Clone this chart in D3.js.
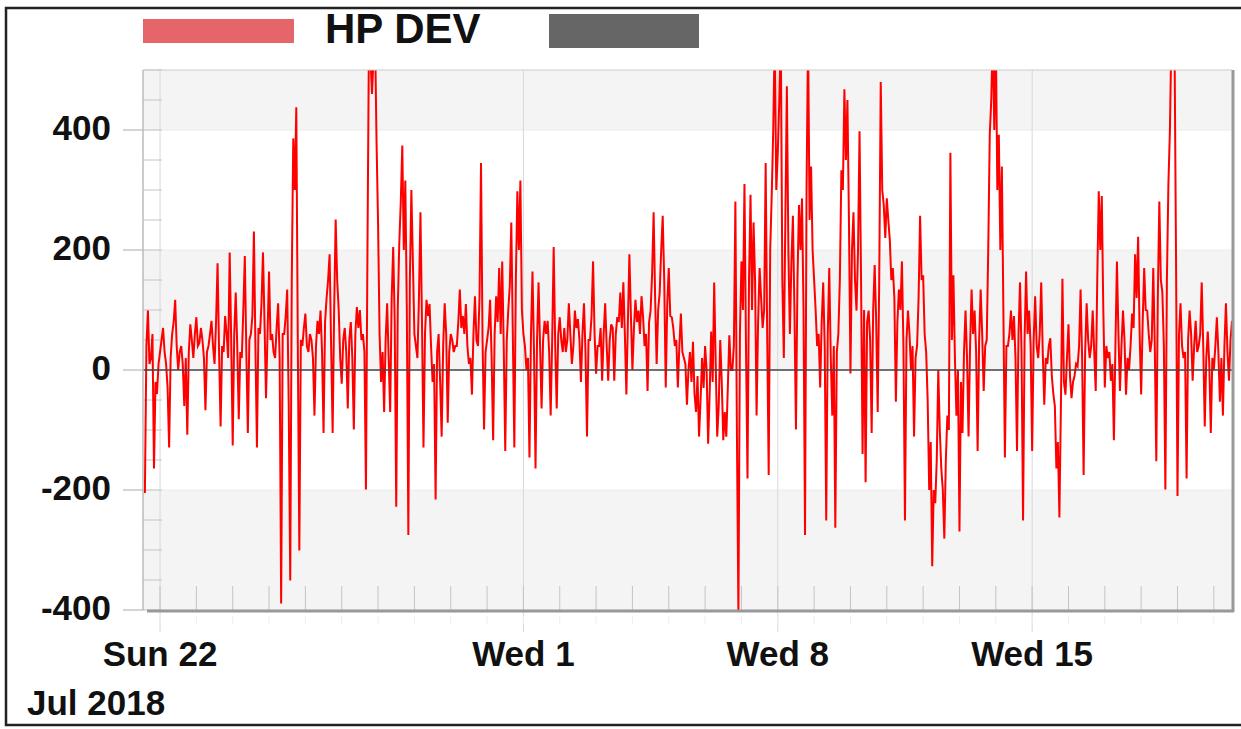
<!DOCTYPE html>
<html lang="en">
<head>
<meta charset="UTF-8" />
<title>HP DEV</title>
<script src="https://d3js.org/d3.v7.min.js"></script>
<style>
  body { margin: 0; background: #fff; }
  svg { font-family: 'Liberation Sans', Arial, sans-serif; }
  .lbl { font-weight: bold; fill: #111; font-size: 35px; }
</style>
</head>
<body>
<svg id="chart" width="1241" height="729"></svg>
<script>
  // hourly series from Jul 21 14:00 (UTC)
  const seriesName = "HP DEV";
  const seriesStart = Date.UTC(2018, 6, 21, 14);
  const stepHours = 1;

  const week1 = [
    -205, 40, 99, 10, 20, 60, -164, -20, -40, 10, 30, 50, 70, 30, 10, -30, -129, 20, 60, 80,
    117, 40, 0, 30, 40, 10, -60, 20, -108, 30, 76, 50, 20, 60, 88, 40, 45, 70, 50, 20,
    -67, 30, 40, 60, 82, 40, 10, 80, 178, 30, -94, 40, 30, 90, 60, 20, 196, 50, -126, 60,
    129, 40, -82, 30, 20, 100, 190, 30, -105, 50, 60, 90, 231, 40, -129, 70, 60, 110, 196, 80,
    -47, 60, 164, 50, 60, 30, 20, 70, 111, 20, -389, 60, 60, 90, 134, -60, -351, 150, 386, 300,
    438, 40, -301, 50, 40, 70, 94, 40, 30, 60, 50, 20, -76, 40, 82, 60, 99, 30, -105, 80,
    120, 150, 193, 40, -105, 100, 251, 150, 100, 20, -23, 50, 70, 30, -64, 50, 80, 20, -99, 60,
    105, 70, 100, 50, 60, 30, -199, 200, 560, 520, 460, 520, 560, 380, 245, 60, -20, 30, -70, 50,
    111, 20, -70, 120, 205, 80, -228, 100, 210, 280, 374, 200, 316, 100, -275, 150, 300, 180, 60, 40];
  const week2 = [
    20, 120, 263, 80, -129, 60, 117, 90, 110, 40, -20, 10, -216, 30, 60, -20, -111, 40, 111, 60,
    -88, 30, 60, 50, 30, 40, 40, 80, 134, 70, 90, 60, 110, 40, 10, 20, -41, 60, 123, 50,
    40, 120, 345, 50, -99, 30, 50, 70, 117, 20, -117, 60, 123, 80, 170, 60, 181, 40, -135, 50,
    100, 140, 246, 60, -129, 150, 298, 200, 316, 100, 60, 40, 0, 20, -146, 60, 164, 30, -164, 50,
    146, 40, -64, 50, 82, 60, 82, 30, -76, 50, 205, 40, -64, 60, 88, 50, 30, 70, 30, 50,
    111, 60, 10, 40, 99, 70, 85, 50, -20, 60, 111, 30, -111, 50, 50, 90, 181, 60, -6, 40,
    40, 70, -18, 60, 111, 40, -18, 50, 76, 70, -18, 60, 88, 80, 129, 70, 146, 60, -41, 80,
    193, 90, 0, 70, 117, 80, 99, 60, 123, 90, 40, 60, -35, 80, 99, 160, 263, 120, 10, 100,
    129, 200, 257, 150, -29, 110, 170, 90, 88, 70, 40, 50, -29, 40, 94, 30, 20, 10, -58, 0];
  const week3 = [
    30, -20, 47, -40, -70, -10, -111, -50, 20, -30, 40, 0, -123, -40, 64, -20, 146, 10, -111, -60,
    50, -20, -117, -70, -111, -30, 58, 0, 0, 40, 281, -100, -410, 60, 181, 100, 310, 40, -181, 150,
    292, 100, 246, 150, -76, 80, 170, 120, 70, 100, 345, 60, -175, 200, 292, 400, 560, 300, 362, 450,
    560, 150, 20, 250, 473, 200, 60, 180, 257, 100, -99, 150, 275, 200, 286, 100, -275, 300, 560, 250,
    339, 200, 150, 100, 40, 60, -29, 80, 146, 40, -251, 60, 170, 20, -76, 40, -263, 30, 60, 150,
    333, 300, 468, 350, 450, 250, -6, 200, 263, 150, 99, 200, 398, 150, -140, 100, -187, 80, 99, 50,
    -105, 100, 175, 80, -70, 150, 480, 300, 275, 220, 286, 250, 216, 150, 170, 120, -53, 80, 134, 100,
    181, 40, -251, 50, 99, 60, 0, 40, -111, 20, 40, 120, 257, 150, 158, 60, 30, -50, -200, -120,
    -327, -200, -222, -150, 0, -100, -164, -200, -281, -150, -76, -100, 362, 50, 158, 20, -76, 0, -269, -20];
  const week4 = [
    -105, 30, 99, 20, -111, 40, 134, 60, 99, 30, -135, 50, 134, 60, -35, 40, 50, 200, 392, 450,
    560, 400, 560, 300, 392, 200, 339, 100, -146, 40, 40, 60, 99, 50, 90, 20, -135, 60, 146, 30,
    -251, 50, 164, 60, 99, 40, -135, 50, 123, 40, 20, 60, 146, 30, -58, 20, 10, 40, 53, -10,
    -40, -60, -164, -120, -246, -60, 152, -20, -41, 20, 76, -10, -47, -20, -10, 10, 6, 40, 134, 20,
    -175, 30, 111, 50, 20, 40, 99, 30, -35, 150, 298, 200, 290, 100, -29, 40, 20, 30, -18, 10,
    -117, 40, 181, 60, -35, 40, 99, 50, -41, 20, 0, 40, 94, 70, 193, 120, 222, 60, -41, 80,
    170, 100, 99, 60, 30, 50, 170, 40, -152, 120, 281, 150, 130, 40, -199, 150, 310, 400, 560, 520,
    560, 200, -210, 60, 111, 40, 20, 30, -181, 50, 99, 60, -18, 40, 82, 30, 40, 60, 146, 40,
    -94, 20, 64, 10, -105, 20, 0, 40, 88, 30, -53, 20, -76, 40, 111, 30, -18, 50, 82, 40];

  const yTicks = [-400, -200, 0, 200, 400];
  const yDomain = [-400, 500];
  const xDomain = [Date.UTC(2018, 6, 21, 12, 45), Date.UTC(2018, 7, 20, 12)];
  const labelDays = [Date.UTC(2018, 6, 22), Date.UTC(2018, 7, 1), Date.UTC(2018, 7, 8), Date.UTC(2018, 7, 15)];
  const periodLabel = "Jul 2018";

  const values = week1.concat(week2, week3, week4);
  const data = values.map((v, i) => ({ t: new Date(seriesStart + i * stepHours * 3600e3), v }));

  const svg = d3.select("#chart");
  const pLeft = 143, pRight = 1232, pTop = 70, pBottom = 610;

  const x = d3.scaleUtc().domain(xDomain).range([pLeft, pRight]);
  const y = d3.scaleLinear().domain(yDomain).range([pBottom, pTop]);

  // outer frame
  svg.append("rect")
    .attr("x", 6).attr("y", 8).attr("width", 1250).attr("height", 717)
    .attr("fill", "#fff").attr("stroke", "#222").attr("stroke-width", 2.5);

  // legend
  svg.append("rect").attr("x", 143).attr("y", 19).attr("width", 151).attr("height", 24).attr("fill", "#e5666a");
  svg.append("text").attr("class", "lbl").attr("x", 325).attr("y", 43)
    .style("font-size", "42px").text(seriesName);
  svg.append("rect").attr("x", 549).attr("y", 14).attr("width", 150).attr("height", 34).attr("fill", "#666");

  // alternating bands
  const bands = svg.append("g");
  yTicks.forEach((v, i) => {
    if (i % 2) return;
    const hi = Math.min(v + 200, yDomain[1]);
    bands.append("rect")
      .attr("x", pLeft).attr("width", pRight - pLeft)
      .attr("y", y(hi)).attr("height", y(v) - y(hi))
      .attr("fill", "#f4f4f4");
  });

  // grid
  svg.append("g").selectAll("line").data(yTicks).join("line")
    .attr("x1", pLeft).attr("x2", pRight).attr("y1", d => y(d)).attr("y2", d => y(d))
    .attr("stroke", "#ececec");
  svg.append("g").selectAll("line").data(labelDays).join("line")
    .attr("x1", d => x(d)).attr("x2", d => x(d)).attr("y1", pTop).attr("y2", 632)
    .attr("stroke", "#d8d8d8");

  // minor ticks
  svg.append("g").selectAll("line").data(d3.range(-400, 501, 50)).join("line")
    .attr("x1", pLeft).attr("x2", 162).attr("y1", d => y(d)).attr("y2", d => y(d))
    .attr("stroke", "#c4c4c4");
  svg.append("g").selectAll("line").data(x.ticks(d3.utcDay.every(1))).join("line")
    .attr("x1", d => x(d)).attr("x2", d => x(d)).attr("y1", 586).attr("y2", pBottom)
    .attr("stroke", "#c4c4c4");
  svg.append("g").selectAll("line").data(x.ticks(d3.utcDay.every(1))).join("line")
    .attr("x1", d => x(d)).attr("x2", d => x(d)).attr("y1", 616).attr("y2", 624)
    .attr("stroke", "#eee");
  svg.append("g").selectAll("line").data(yTicks).join("line")
    .attr("x1", 123).attr("x2", pLeft).attr("y1", d => y(d)).attr("y2", d => y(d))
    .attr("stroke", "#aaa");

  // series
  svg.append("clipPath").attr("id", "clip")
    .append("rect").attr("x", pLeft).attr("y", pTop).attr("width", pRight - pLeft).attr("height", pBottom - pTop);

  svg.append("path")
    .datum(data)
    .attr("clip-path", "url(#clip)")
    .attr("fill", "none")
    .attr("stroke", "#ff0000")
    .attr("stroke-width", 2)
    .attr("d", d3.line().x(d => x(d.t)).y(d => y(d.v)));

  // zero line
  svg.append("line")
    .attr("x1", pLeft).attr("x2", pRight).attr("y1", y(0)).attr("y2", y(0))
    .attr("stroke", "#444").attr("stroke-opacity", 0.75).attr("stroke-width", 2);

  // frame of the plot
  svg.append("line").attr("x1", pLeft).attr("x2", pRight).attr("y1", pTop).attr("y2", pTop).attr("stroke", "#ccc");
  svg.append("line").attr("x1", pLeft).attr("x2", pLeft).attr("y1", pTop).attr("y2", pBottom).attr("stroke", "#bbb").attr("stroke-width", 1.5);
  svg.append("line").attr("x1", 147).attr("x2", pRight + 2).attr("y1", pBottom + 1).attr("y2", pBottom + 1).attr("stroke", "#999").attr("stroke-width", 3);
  svg.append("line").attr("x1", pRight + 1).attr("x2", pRight + 1).attr("y1", pTop).attr("y2", pBottom + 2).attr("stroke", "#999").attr("stroke-width", 3);

  // labels
  svg.append("g").selectAll("text").data(yTicks).join("text")
    .attr("class", "lbl").attr("x", 111).attr("y", d => y(d) + 10)
    .attr("text-anchor", "end").text(d => d);

  const fmt = d3.utcFormat("%a %-d");
  svg.append("g").selectAll("text").data(labelDays).join("text")
    .attr("class", "lbl").attr("x", d => x(d)).attr("y", 666)
    .attr("text-anchor", "middle").text(d => fmt(new Date(d)));

  svg.append("text").attr("class", "lbl").attr("x", 27).attr("y", 715).text(periodLabel);
</script>
</body>
</html>
